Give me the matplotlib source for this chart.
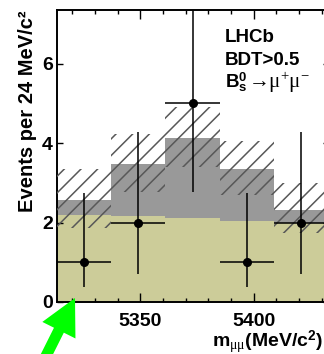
import matplotlib
matplotlib.use('Agg')
import matplotlib.pyplot as plt
import numpy as np
from matplotlib.patches import FancyArrow
from matplotlib.ticker import MultipleLocator

plt.rcParams['font.family'] = ['Liberation Sans', 'DejaVu Sans']
plt.rcParams['mathtext.fontset'] = 'custom'
plt.rcParams['mathtext.rm'] = 'Liberation Serif:normal'
plt.rcParams['mathtext.bf'] = 'Liberation Sans:bold'
plt.rcParams['mathtext.it'] = 'Liberation Serif:normal'
plt.rcParams['mathtext.sf'] = 'Liberation Sans:bold'
plt.rcParams['hatch.linewidth'] = 1.1

# binning (24 MeV/c^2 bins)
edges = np.array([5313, 5337, 5361, 5385, 5409, 5433])
centers = 0.5 * (edges[:-1] + edges[1:])

# expected background (khaki) and background + signal (grey)
bkg = np.array([2.20, 2.16, 2.11, 2.03, 2.00])
total = np.array([2.56, 3.48, 4.12, 3.35, 2.32])
# uncertainty band on the expectation
band_lo = np.array([1.87, 2.78, 3.40, 2.70, 1.74])
band_hi = np.array([3.35, 4.22, 4.90, 4.04, 3.00])

# observed events with Poisson errors
obs = np.array([1, 2, 5, 1, 2])
err_lo = np.array([0.63, 1.29, 2.24, 0.63, 1.29])
err_hi = np.array([1.75, 2.27, 3.38, 1.75, 2.27])

fig = plt.figure(figsize=(3.24, 3.54), dpi=100)
ax = fig.add_axes([56.5 / 324, 52 / 354, 272 / 324, 292 / 354])

ax.stairs(bkg, edges, baseline=0, fill=True, color='#cccc99', lw=0, zorder=1)
ax.stairs(total, edges, baseline=bkg, fill=True, color='#999999', lw=0, zorder=2)
ax.bar(edges[:-1], band_hi - band_lo, bottom=band_lo, width=np.diff(edges),
       align='edge', fill=False, hatch='//', lw=0, edgecolor='#585858', zorder=3)
ax.errorbar(centers, obs, yerr=[err_lo, err_hi], xerr=12, fmt='o', color='black',
            ms=5.5, elinewidth=1.1, capsize=0, zorder=5)

ax.set_xlim(5313, 5433)
ax.set_ylim(0, 7.35)
ax.set_xticks([5350, 5400])
ax.xaxis.set_minor_locator(MultipleLocator(10))
ax.set_yticks([0, 2, 4, 6])
ax.tick_params(which='both', direction='in', top=True, right=True, labelsize=14, width=1.0)
ax.tick_params(axis='x', which='major', length=6.5, pad=8)
ax.tick_params(axis='x', which='minor', length=3.2)
ax.tick_params(axis='y', which='major', length=4.5, pad=2.5)
for lab in ax.get_xticklabels() + ax.get_yticklabels():
    lab.set_fontweight('bold')
for s in ax.spines.values():
    s.set_linewidth(1.4)

fig.text(27.5 / 324, 1 - 10 / 354, 'Events per 24 MeV/c\u00b2', rotation=90,
         ha='center', va='top', fontsize=14.5, fontweight='bold')
fig.text(323 / 324, 1 - 347 / 354, r'm$_{\mathrm{\mu\mu}}$(MeV/c$^{\mathbf{2}}$)',
         ha='right', va='baseline', fontsize=14, fontweight='bold')

fig.text(225 / 324, 1 - 42 / 354, 'LHCb', ha='left', va='baseline', fontsize=13.5, fontweight='bold')
fig.text(225 / 324, 1 - 65 / 354, 'BDT>0.5', ha='left', va='baseline', fontsize=13.5, fontweight='bold')
fig.text(225 / 324, 1 - 88 / 354, r'$\mathbf{B}^{\mathbf{0}}_{\mathbf{s}}$',
         ha='left', va='baseline', fontsize=13.5)
fig.text(248 / 324, 1 - 88 / 354, '\u2192\u03bc$^{+}$\u03bc$^{-}$', family='Liberation Serif',
         ha='left', va='baseline', fontsize=15)

# green arrow pointing at the lower edge of the window
arrow = FancyArrow(0.39, -0.16, 0.36, 0.72, width=0.11, head_width=0.37,
                   head_length=0.36, length_includes_head=True,
                   color='#00ff00', lw=0, transform=fig.dpi_scale_trans, clip_on=False)
fig.add_artist(arrow)

fig.savefig('out.png', dpi=100)
